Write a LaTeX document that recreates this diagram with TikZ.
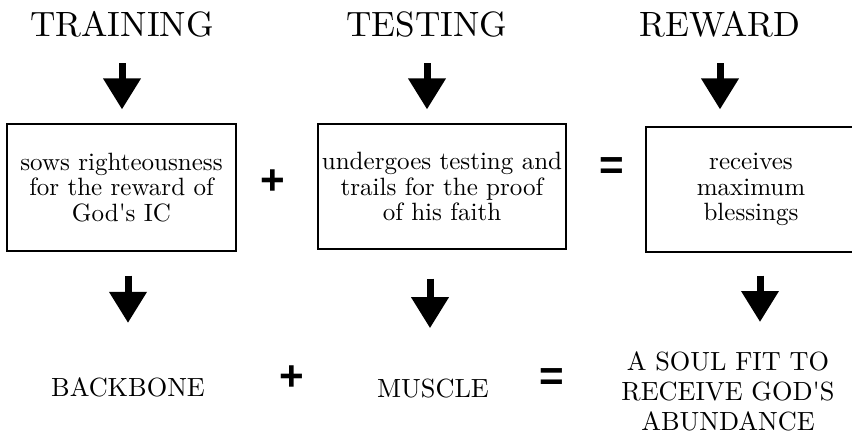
\documentclass[tikz,border=0pt]{standalone}
\usepackage{fontspec}
\setmainfont{lmroman10-regular.otf}[BoldFont=lmroman10-bold.otf]
\setsansfont{Liberation Sans}
\usetikzlibrary{arrows.meta}

\begin{document}
\begin{tikzpicture}
    \tikzstyle{stage}=[inner sep=0, anchor=base, font=\fontsize{25}{30}\selectfont]
    \tikzstyle{card}=[draw, line width=0.8pt, align=center, inner sep=0, font=\fontsize{17.8}{18}\selectfont]
    \tikzstyle{outcome}=[inner sep=0, align=center, font=\fontsize{18.7}{21.6}\selectfont]
    \tikzstyle{sign}=[inner sep=0, font=\sffamily\bfseries\fontsize{30}{30}\selectfont]
    \tikzstyle{fat}=[line width=0.175cm, -{Triangle[width=0.9cm, length=0.775cm]}]

    \useasboundingbox (0, 0) rectangle (21.3, 10.875);

    % Stages
    \node[stage] (train) at (3.05, 9.95) {TRAINING};
    \node[stage] (test) at (10.675, 9.95) {TESTING};
    \node[stage] (reward) at (18.0, 9.95) {REWARD};

    % What happens at each stage
    \node[card, minimum width=5.725cm, minimum height=3.175cm] (b1) at (3.0375, 6.1875)
      {sows righteousness\\ for the reward of\\ God\textquotesingle s IC};
    \node[card, minimum width=6.2cm, minimum height=3.125cm] (b2) at (11.05, 6.2125)
      {undergoes testing and\\ trails for the proof\\ of his faith};
    \node[card, minimum width=5.25cm, minimum height=3.125cm] (b3) at (18.775, 6.1375)
      {receives\\ maximum\\ blessings};
    \node[sign] (plus1) at (6.825, 6.325) {+};
    \node[sign] (eq1) at (15.3, 6.65) {=};

    % Results
    \node[outcome, anchor=base] (backbone) at (3.2, 0.975) {BACKBONE};
    \node[outcome, anchor=base] (muscle) at (10.825, 0.95) {MUSCLE};
    \node[outcome, anchor=north] (soul) at (18.2, 2.1)
      {A SOUL FIT TO\\ RECEIVE GOD\textquotesingle S\\ ABUNDANCE};
    \node[sign] (plus2) at (7.3, 1.425) {+};
    \node[sign] (eq2) at (13.8, 1.375) {=};

    % Arrows
    \draw[fat, shorten <=0.625cm, shorten >=0.35cm] (train.south) -- (train.south |- b1.north);
    \draw[fat, shorten <=0.625cm, shorten >=0.35cm] (test.south) -- (test.south |- b2.north);
    \draw[fat, shorten <=0.625cm, shorten >=0.425cm] (reward.south) -- (reward.south |- b3.north);
    \draw[fat, shorten <=0.6cm, shorten >=1.35cm] (backbone |- b1.south) -- (backbone.north);
    \draw[fat, shorten <=0.725cm, shorten >=1.25cm] ([xshift=-0.075cm]muscle.north |- b2.south) -- ([xshift=-0.075cm]muscle.north);
    \draw[fat, shorten <=0.575cm, shorten >=0.725cm] ([xshift=0.225cm]b3.south) -- ([xshift=0.225cm]b3.south |- soul.north);
\end{tikzpicture}
\end{document}
